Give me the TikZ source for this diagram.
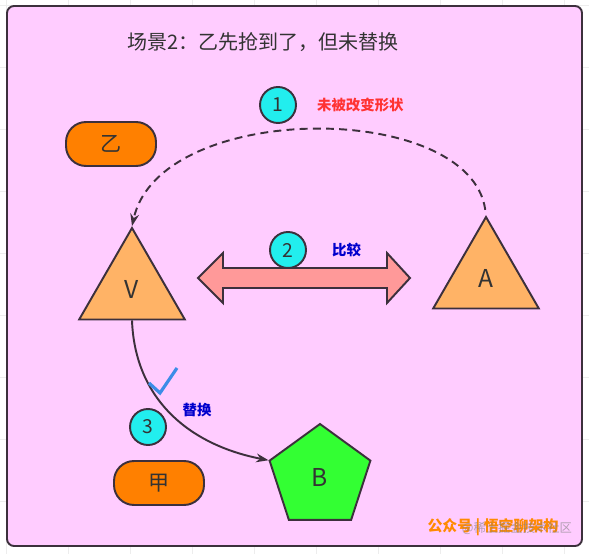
\documentclass[tikz,border=0pt]{standalone}
\usepackage{fontspec}
\setmainfont{Noto Sans CJK SC}
\usepackage{xcolor}
\usetikzlibrary{positioning,shapes.geometric,arrows.meta}

\definecolor{edge}{HTML}{3C303C}
\definecolor{pinkfill}{HTML}{FFCCFF}
\definecolor{cyanfill}{HTML}{22EEEE}
\definecolor{orangefill}{HTML}{FF8000}
\definecolor{trifill}{HTML}{FFB366}
\definecolor{pentfill}{HTML}{33FF33}
\definecolor{cmpfill}{HTML}{FF9999}
\definecolor{redc}{HTML}{FF3333}
\definecolor{bluec}{HTML}{0000CC}
\definecolor{checkc}{HTML}{3C8CE7}
\definecolor{txt}{HTML}{333333}
\definecolor{wmark}{HTML}{FF8A00}
\definecolor{gridc}{HTML}{EDEDED}

\begin{document}
\begin{tikzpicture}[
    x=0.02cm, y=-0.02cm,
    font=\fontsize{11}{13}\selectfont,
    lw/.style={line width=1.1pt, draw=edge},
    num/.style={circle, lw, fill=cyanfill, minimum size=0.72cm, inner sep=0pt, text=txt},
    box/.style={lw, rounded corners=0.4cm, fill=orangefill, minimum width=1.8cm, minimum height=0.88cm, inner sep=0pt, text=txt, font=\fontsize{12}{14}\selectfont},
    tri/.style={regular polygon, regular polygon sides=3, lw, fill=trifill, minimum size=2.44cm, inner sep=0pt, text=txt, font=\fontsize{14}{16}\selectfont},
    pent/.style={regular polygon, regular polygon sides=5, lw, fill=pentfill, minimum size=2.12cm, inner sep=0pt, text=txt, font=\fontsize{14}{16}\selectfont},
    note/.style={font=\fontsize{8.2}{10}\selectfont\bfseries},
    fl/.style={-{Stealth[length=7pt, width=5pt]}, line width=1.1pt, draw=edge},
]
    \useasboundingbox (0,0) rectangle (589,554);
    \fill[white] (0,0) rectangle (589,554);
    \foreach \gx in {6,68,...,589} \draw[gridc] (\gx,0) -- (\gx,554);
    \foreach \gy in {5,67,...,554} \draw[gridc] (0,\gy) -- (589,\gy);
    \draw[lw, fill=pinkfill, rounded corners=4pt] (7,6) rectangle (582,546);

    \node[text=txt, font=\fontsize{11.4}{14}\selectfont] (title) at (263,42) {场景2：乙先抢到了，但未替换};

    \node[tri] (V) at (132,289) {V};
    \node[tri] (A) at (486,278) {A};
    \node[pent] (B) at (320,477) {B};
    \node[box] (yi) at (111,144) {乙};
    \node[box] (jia) at (159,483) {甲};
    % double arrow between V and A
    \draw[lw, fill=cmpfill, line join=miter] (198,278) -- (223,253) -- (223,268) -- (387,268) -- (387,253)
        -- (410,278) -- (387,303) -- (387,288) -- (223,288) -- (223,303) -- cycle;

    \node[num] (n1) at (278,105) {1};
    \node[note, text=redc, right=0.28cm of n1] (keep) {未被改变形状};
    \node[num] (n2) at (288,250) {2};
    \node[note, text=bluec, right=0.38cm of n2] (cmplbl) {比较};
    \node[num] (n3) at (148,427) {3};
    \node[note, text=bluec] (rep) at (197,410) {替换};

    \draw[fl, dash pattern=on 4.5pt off 3pt, shorten <=3pt] (A.north) .. controls (470,100) and (160,100) .. (V.north);
    \draw[fl] (V.south) .. controls (135,400) and (190,445) .. (B.corner 2);
    \draw[checkc, line width=1.8pt] (149,383) -- (160,393) -- (177,368);

    \node[text=wmark, font=\fontsize{8.5}{10}\selectfont\bfseries] (wm) at (493,527) {公众号 | 悟空聊架构};
    \node[text=gray, opacity=0.6, font=\fontsize{7}{9}\selectfont] (wm2) at (517,528) {@稀土掘金技术社区};
\end{tikzpicture}
\end{document}
